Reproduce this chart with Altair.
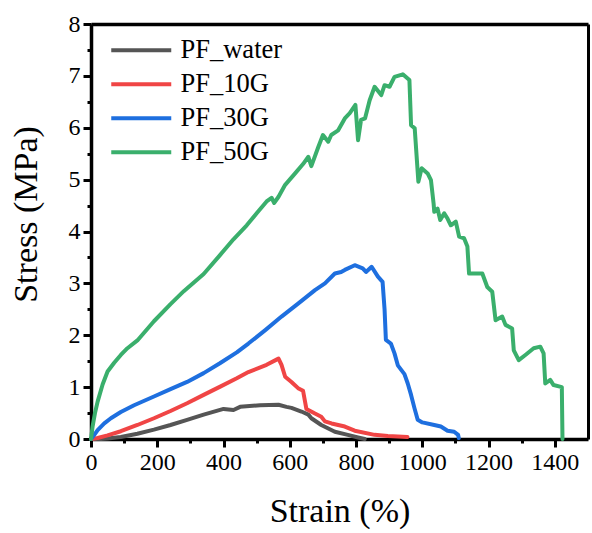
import altair as alt
import pandas as pd

series_names = ["PF_water", "PF_10G", "PF_30G", "PF_50G"]
series_colors = ["#555555", "#f04545", "#1e6fdf", "#3aaf6c"]

water_strain = [0, 30, 50, 90, 140, 190, 240, 290, 340, 400, 430, 450, 510, 566, 590, 605, 635, 656, 665, 695, 736, 775, 806, 826]
water_stress = [0, 0.0, 0.01, 0.04, 0.1, 0.18, 0.27, 0.37, 0.47, 0.58, 0.56, 0.62, 0.65, 0.66, 0.62, 0.6, 0.53, 0.47, 0.4, 0.27, 0.14, 0.08, 0.03, 0.0]

g10_strain = [0, 20, 50, 90, 140, 190, 240, 290, 340, 390, 440, 475, 530, 560, 566, 575, 586, 605, 625, 640, 650, 676, 695, 706, 726, 766, 796, 856, 896, 955]
g10_stress = [0, 0.02, 0.07, 0.15, 0.27, 0.4, 0.54, 0.69, 0.85, 1.01, 1.17, 1.29, 1.43, 1.53, 1.55, 1.43, 1.2, 1.1, 0.98, 0.93, 0.58, 0.49, 0.43, 0.34, 0.3, 0.24, 0.16, 0.08, 0.06, 0.04]

g30_strain = [0, 10, 20, 40, 60, 90, 130, 190, 240, 290, 340, 389, 440, 475, 526, 575, 625, 676, 706, 736, 755, 766, 796, 820, 830, 847, 866, 880, 886, 890, 905, 916, 926, 946, 956, 966, 976, 986, 1000, 1036, 1056, 1076, 1096, 1108, 1110]
g30_stress = [0, 0.08, 0.17, 0.3, 0.4, 0.52, 0.65, 0.82, 0.96, 1.1, 1.27, 1.46, 1.67, 1.84, 2.1, 2.36, 2.61, 2.87, 3.0, 3.19, 3.22, 3.26, 3.35, 3.29, 3.22, 3.32, 3.13, 3.03, 2.5, 1.91, 1.84, 1.65, 1.42, 1.25, 1.07, 0.85, 0.6, 0.37, 0.32, 0.27, 0.24, 0.16, 0.14, 0.08, 0.02]

g50_strain = [0, 5, 12, 20, 35, 50, 70, 90, 110, 140, 190, 240, 280, 340, 390, 430, 470, 500, 530, 545, 553, 566, 586, 616, 640, 656, 665, 686, 700, 716, 725, 746, 766, 781, 798, 806, 815, 827, 841, 856, 876, 886, 901, 916, 941, 961, 966, 977, 988, 998, 1016, 1026, 1034, 1036, 1046, 1054, 1066, 1076, 1086, 1101, 1111, 1126, 1136, 1141, 1166, 1181, 1196, 1211, 1221, 1241, 1251, 1271, 1276, 1291, 1311, 1336, 1356, 1366, 1371, 1386, 1396, 1421, 1423]
g50_stress = [0, 0.25, 0.5, 0.72, 1.05, 1.3, 1.47, 1.62, 1.75, 1.9, 2.27, 2.6, 2.85, 3.18, 3.55, 3.85, 4.12, 4.35, 4.58, 4.65, 4.55, 4.67, 4.9, 5.12, 5.3, 5.44, 5.26, 5.63, 5.86, 5.73, 5.86, 5.95, 6.18, 6.28, 6.44, 5.76, 6.15, 6.18, 6.53, 6.79, 6.63, 6.82, 6.79, 6.98, 7.03, 6.92, 6.05, 5.99, 4.96, 5.22, 5.12, 4.99, 4.54, 4.38, 4.44, 4.22, 4.35, 4.25, 4.12, 4.19, 3.9, 3.87, 3.71, 3.19, 3.19, 3.19, 2.93, 2.84, 2.29, 2.36, 2.2, 2.13, 1.71, 1.52, 1.62, 1.75, 1.78, 1.65, 1.07, 1.14, 1.04, 1.0, 0.0]

x_major = [0, 200, 400, 600, 800, 1000, 1200, 1400]
x_minor = [100, 300, 500, 700, 900, 1100, 1300]
y_major = [0, 1, 2, 3, 4, 5, 6, 7, 8]
y_minor = [0.5, 1.5, 2.5, 3.5, 4.5, 5.5, 6.5, 7.5]

rows = []
for name, xs, ys in [("PF_water", water_strain, water_stress),
                     ("PF_10G", g10_strain, g10_stress),
                     ("PF_30G", g30_strain, g30_stress),
                     ("PF_50G", g50_strain, g50_stress)]:
    for i, (a, b) in enumerate(zip(xs, ys)):
        rows.append({"series": name, "strain": a, "stress": b, "order": i})
df = pd.DataFrame(rows)

FONT = "Liberation Serif"
xscale = alt.Scale(domain=[0, 1500], nice=False, zero=True)
yscale = alt.Scale(domain=[0, 8], nice=False)

# frame (top / right) drawn as domain-only axes
frame = alt.Chart(df).mark_line(opacity=0).encode(
    x=alt.X("strain:Q", scale=xscale,
            axis=alt.Axis(orient="top", labels=False, ticks=False, title=None, grid=False,
                          domain=True, domainWidth=3.5, domainColor="black")),
    y=alt.Y("stress:Q", scale=yscale,
            axis=alt.Axis(orient="right", labels=False, ticks=False, title=None, grid=False,
                          domain=True, domainWidth=3, domainColor="black")),
    detail="series:N",
)

minor = alt.Chart(df).mark_line(opacity=0).encode(
    x=alt.X("strain:Q", scale=xscale,
            axis=alt.Axis(orient="bottom", values=x_minor, labels=False, title=None,
                          tickSize=4, tickWidth=3, domain=False, grid=False, tickColor="black")),
    y=alt.Y("stress:Q", scale=yscale,
            axis=alt.Axis(orient="left", values=y_minor, labels=False, title=None,
                          tickSize=4, tickWidth=3, domain=False, grid=False, tickColor="black")),
    detail="series:N",
)

lines = alt.Chart(df).mark_line(strokeWidth=4, strokeJoin="round", strokeCap="round").encode(
    x=alt.X("strain:Q", scale=xscale,
            axis=alt.Axis(orient="bottom", values=x_major, format="d", title="Strain (%)", grid=False,
                          tickSize=8, tickWidth=3, domainWidth=3.5, domainColor="black", tickColor="black",
                          labelFont=FONT, labelFontSize=24, labelColor="black", labelPadding=3,
                          titleFont=FONT, titleFontSize=34, titleFontWeight="normal",
                          titleColor="black", titlePadding=20, labelFlush=False)),
    y=alt.Y("stress:Q", scale=yscale,
            axis=alt.Axis(orient="left", values=y_major, format="d", title="Stress (MPa)", grid=False,
                          tickSize=8, tickWidth=3, domainWidth=3.5, domainColor="black", tickColor="black",
                          labelFont=FONT, labelFontSize=24, labelColor="black", labelPadding=3,
                          titleFont=FONT, titleFontSize=34, titleFontWeight="normal",
                          titleColor="black", titlePadding=25, titleY=190, labelFlush=False)),
    color=alt.Color("series:N",
                    scale=alt.Scale(domain=series_names, range=series_colors),
                    legend=alt.Legend(title=None, orient="none", legendX=37, legendY=13,
                                      symbolType="M-3,0H3", symbolSize=400, symbolStrokeWidth=4,
                                      labelFont=FONT, labelFontSize=26.5, labelColor="black",
                                      labelOffset=26, rowPadding=7, padding=0, labelLimit=300)),
    order="order:Q",
)

chart = alt.layer(lines, minor, frame).resolve_axis(x="independent", y="independent").properties(
    width=497, height=415,
    autosize=alt.AutoSizeParams(type="none"),
    padding={"left": 91, "top": 24, "right": 4, "bottom": 94},
).configure_view(strokeWidth=0).configure_axis(
    labelFont=FONT, labelFontSize=24, labelColor="black", titleFont=FONT
).configure_legend(labelFont=FONT).configure(background="white")

chart.save("out.html", embed_options={"renderer": "svg", "actions": False})
